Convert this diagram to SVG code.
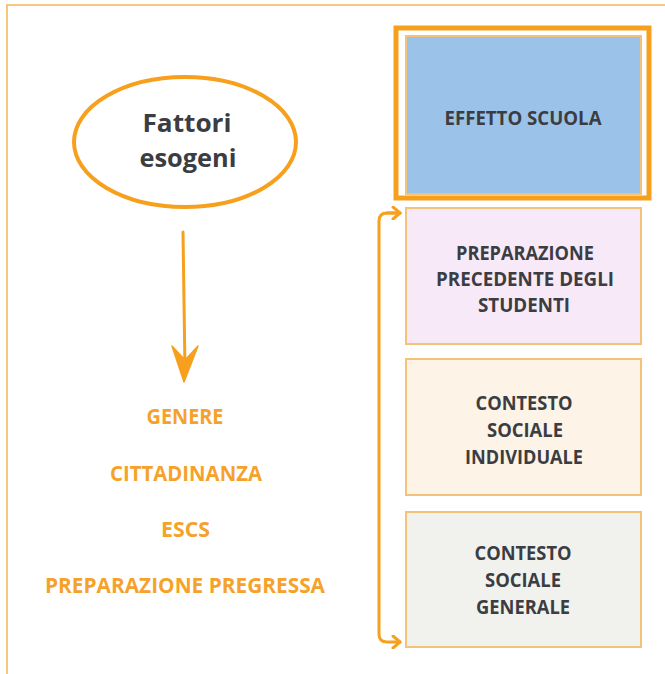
<svg xmlns="http://www.w3.org/2000/svg" width="665" height="674" viewBox="0 0 665 674">
<defs>
<style>
.dark{font-family:"Open Sans","Noto Sans","Liberation Sans",sans-serif;font-weight:700;fill:#3b3d42;text-anchor:middle}
.box{font-size:19px}
.lab{font-family:"Open Sans","Noto Sans","Liberation Sans",sans-serif;font-weight:700;fill:#F6A22A;text-anchor:middle;font-size:20.5px}
.bx{stroke:#F5C27A;stroke-width:2}
.conn{fill:none;stroke:#F7A01E;stroke-width:3;stroke-linecap:round;stroke-linejoin:round}
</style>
<marker id="chev" markerWidth="12" markerHeight="14" refX="9" refY="7" orient="auto" markerUnits="userSpaceOnUse">
<path d="M2,1 L9,7 L2,13" fill="none" stroke="#F7A01E" stroke-width="3" stroke-linecap="round" stroke-linejoin="round"/>
</marker>
</defs>
<rect width="665" height="674" fill="#ffffff"/>
<rect id="frame" x="7" y="5" width="680" height="690" fill="none" stroke="#F8C77F" stroke-width="2"/>

<g id="fattori">
<ellipse cx="185" cy="142" rx="111" ry="65" fill="#ffffff" stroke="#F7A01E" stroke-width="4"/>
<text class="dark" x="187" y="132" font-size="25" font-weight="600" textLength="89" lengthAdjust="spacingAndGlyphs">Fattori</text>
<text class="dark" x="188" y="167" font-size="25" font-weight="600" textLength="97" lengthAdjust="spacingAndGlyphs">esogeni</text>
</g>

<g id="effetto-scuola">
<rect x="396" y="28" width="253" height="170" fill="#ffffff" stroke="#F7A01E" stroke-width="5"/>
<rect class="bx" x="406" y="36" width="235" height="158" fill="#9BC3E9"/>
<text class="dark box" x="523" y="125" textLength="157" lengthAdjust="spacingAndGlyphs">EFFETTO SCUOLA</text>
</g>

<g id="preparazione-precedente">
<rect class="bx" x="406" y="208" width="235" height="136" fill="#F8E9F8"/>
<text class="dark box" x="525" y="260" textLength="138" lengthAdjust="spacingAndGlyphs">PREPARAZIONE</text>
<text class="dark box" x="525" y="286" textLength="178" lengthAdjust="spacingAndGlyphs">PRECEDENTE DEGLI</text>
<text class="dark box" x="524" y="312" textLength="92" lengthAdjust="spacingAndGlyphs">STUDENTI</text>
</g>

<g id="contesto-individuale">
<rect class="bx" x="406" y="359" width="235" height="136" fill="#FDF3E6"/>
<text class="dark box" x="524" y="410" textLength="97" lengthAdjust="spacingAndGlyphs">CONTESTO</text>
<text class="dark box" x="525" y="437" textLength="76" lengthAdjust="spacingAndGlyphs">SOCIALE</text>
<text class="dark box" x="524" y="464" textLength="118" lengthAdjust="spacingAndGlyphs">INDIVIDUALE</text>
</g>

<g id="contesto-generale">
<rect class="bx" x="406" y="512" width="235" height="135" fill="#F1F2EE"/>
<text class="dark box" x="523" y="560" textLength="97" lengthAdjust="spacingAndGlyphs">CONTESTO</text>
<text class="dark box" x="523" y="587" textLength="76" lengthAdjust="spacingAndGlyphs">SOCIALE</text>
<text class="dark box" x="523" y="614" textLength="94" lengthAdjust="spacingAndGlyphs">GENERALE</text>
</g>

<g id="fattori-elenco">
<text class="lab" x="185" y="424" textLength="77" lengthAdjust="spacingAndGlyphs">GENERE</text>
<text class="lab" x="186" y="481" textLength="152" lengthAdjust="spacingAndGlyphs">CITTADINANZA</text>
<text class="lab" x="185.5" y="537" textLength="49" lengthAdjust="spacingAndGlyphs">ESCS</text>
<text class="lab" x="185" y="593" textLength="280" lengthAdjust="spacingAndGlyphs">PREPARAZIONE PREGRESSA</text>
</g>

<g id="connectors">
<path class="conn" d="M183,232 L185,370"/>
<polygon points="172,346 184,382 198,346 185,360" fill="#F7A01E" stroke="#F7A01E" stroke-width="1.5" stroke-linejoin="round"/>
<path class="conn" d="M400,213 L387,213 Q379,213 379,221 L379,634 Q379,642 387,642 L400,642" marker-end="url(#chev)"/>
<path class="conn" d="M387,213 L400,213" marker-end="url(#chev)"/>
</g>
</svg>
